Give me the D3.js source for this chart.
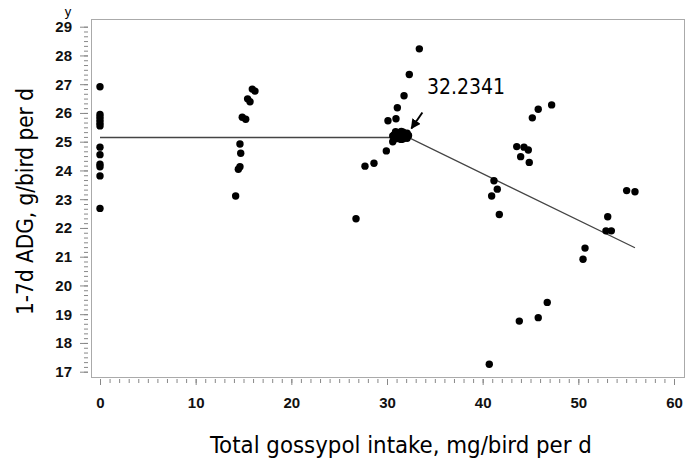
<!DOCTYPE html>
<html>
<head>
<meta charset="utf-8">
<script src="https://cdn.jsdelivr.net/npm/d3@7"></script>
<style>
  body { margin: 0; background: #fff; }
  .tick text { font-family: "Liberation Sans Narrow", "Liberation Sans", Arial, sans-serif; font-weight: bold; font-size: 15px; fill: #111; }
</style>
</head>
<body>
<script>
// gossypol intake (x) vs 1-7d ADG (y)
var intake = [
  0, 0, 0, 0, 0, 0, 0, 0, 0, 0, 0, 0,
  14.18, 14.63, 14.71, 14.63, 14.46, 14.87, 15.23, 15.43, 15.68, 15.92, 16.20,
  33.38, 32.33, 31.78, 31.08, 30.94, 30.10, 30.60, 29.93, 28.64, 27.70, 26.76,
  30.6, 30.9, 30.9, 31.3, 31.3, 31.7, 31.7, 32.1, 32.1, 32.25, 31.5,
  31.0, 31.9, 30.75, 32.2, 31.5, 31.5, 31.2, 31.8,
  43.56, 44.32, 44.77, 43.97, 44.87, 45.19, 45.81, 47.21,
  41.18, 41.53, 40.94, 41.74,
  55.05, 55.92, 53.07, 52.89, 53.45, 50.70, 50.49,
  46.75, 45.81, 43.83, 40.69
];
var adg = [
  26.91, 25.95, 25.85, 25.75, 25.64, 25.55, 24.81, 24.55, 24.22, 24.13, 23.81, 22.68,
  23.11, 24.92, 24.60, 24.13, 24.04, 25.85, 25.78, 26.49, 26.39, 26.83, 26.76,
  28.23, 27.34, 26.60, 26.18, 25.80, 25.73, 25.00, 24.68, 24.25, 24.15, 22.32,
  25.2, 25.35, 25.1, 25.32, 25.1, 25.33, 25.1, 25.3, 25.12, 25.22, 25.22,
  25.22, 25.22, 25.24, 25.2, 25.36, 25.08, 25.2, 25.25,
  24.83, 24.81, 24.71, 24.48, 24.28, 25.83, 26.13, 26.28,
  23.64, 23.35, 23.11, 22.47,
  23.30, 23.26, 22.39, 21.90, 21.90, 21.30, 20.91,
  19.41, 18.88, 18.76, 17.26
];

// broken-line fit: plateau then linear decline
var breakX = 32.2341;
var fitX = [0, 32.2341, 55.92];
var fitY = [25.146, 25.146, 21.31];

var xTicks = [0, 10, 20, 30, 40, 50, 60];
var yTicks = [17, 18, 19, 20, 21, 22, 23, 24, 25, 26, 27, 28, 29];

var W = 693, H = 461;
var frame = {left: 91, top: 19, right: 684, bottom: 377};

var svg = d3.select("body").append("svg")
  .attr("width", W).attr("height", H);

var x = d3.scaleLinear().domain([0, 60]).range([100, 674]);
var y = d3.scaleLinear().domain([17, 29]).range([371.7, 26.7]);

// frame
svg.append("rect")
  .attr("x", frame.left + 0.5).attr("y", frame.top + 0.5)
  .attr("width", frame.right - frame.left).attr("height", frame.bottom - frame.top)
  .attr("fill", "none").attr("stroke", "#aaa").attr("stroke-width", 1);

// y axis, major + minor
var yMinor = d3.range(17, 29.001, 1 / 6);
svg.append("g").attr("class", "minor")
  .attr("transform", "translate(88,0)")
  .call(d3.axisLeft(y).tickValues(yMinor).tickSize(4).tickFormat(""));
svg.append("g").attr("class", "major")
  .attr("transform", "translate(88,0)")
  .call(d3.axisLeft(y).tickValues(yTicks).tickSize(8).tickPadding(8).tickFormat(d3.format("d")));

// x axis, major + minor
var xMinor = d3.range(0, 61, 1);
svg.append("g").attr("class", "minor")
  .attr("transform", "translate(0,379)")
  .call(d3.axisBottom(x).tickValues(xMinor).tickSize(4).tickFormat(""));
svg.append("g").attr("class", "major")
  .attr("transform", "translate(0,379)")
  .call(d3.axisBottom(x).tickValues(xTicks).tickSize(6).tickPadding(12).tickFormat(d3.format("d")));

svg.selectAll(".domain").remove();
svg.selectAll(".tick line").attr("stroke", "#888");

// little "y" above the axis
svg.append("text")
  .attr("x", 68).attr("y", 16)
  .attr("text-anchor", "middle")
  .style("font-family", "Liberation Sans, Arial, sans-serif")
  .style("font-size", "13px")
  .text("y");

// fitted line
var line = d3.line().x(function(d) {return x(d[0]);}).y(function(d) {return y(d[1]);});
svg.append("path")
  .datum(d3.zip(fitX, fitY))
  .attr("d", line)
  .attr("fill", "none")
  .attr("stroke", "#444")
  .attr("stroke-width", 1.3);

// points
svg.selectAll("circle.pt")
  .data(d3.zip(intake, adg))
  .enter()
  .append("circle")
    .attr("class", "pt")
    .attr("cx", function(d) {return x(d[0]);})
    .attr("cy", function(d) {return y(d[1]);})
    .attr("r", 3.7)
    .attr("fill", "#000");

// arrow + label for the break point
svg.append("defs").append("marker")
  .attr("id", "ah")
  .attr("viewBox", "0 0 10 10")
  .attr("refX", 9).attr("refY", 5)
  .attr("markerWidth", 10).attr("markerHeight", 10)
  .attr("markerUnits", "userSpaceOnUse")
  .attr("orient", "auto")
  .append("path").attr("d", "M0,0L10,5L0,10z").attr("fill", "#000");

svg.append("line")
  .attr("x1", x(breakX) + 14).attr("y1", y(25.146) - 25)
  .attr("x2", x(breakX) + 3).attr("y2", y(25.146) - 9)
  .attr("stroke", "#000").attr("stroke-width", 2)
  .attr("marker-end", "url(#ah)");

function fitText(t, width) {
  var w = t.node().getComputedTextLength();
  var fs = parseFloat(t.style("font-size"));
  t.style("font-size", (fs * width / w) + "px");
}

var lab = svg.append("text")
  .attr("x", 427).attr("y", 94)
  .style("font-family", "DejaVu Sans Condensed, DejaVu Sans, sans-serif")
  .style("font-size", "22px")
  .text(String(breakX));
fitText(lab, 78);

// axis titles
var xt = svg.append("text")
  .attr("x", 401).attr("y", 453)
  .attr("text-anchor", "middle")
  .style("font-family", "DejaVu Sans Condensed, DejaVu Sans, sans-serif")
  .style("font-size", "22px")
  .text("Total gossypol intake, mg/bird per d");
fitText(xt, 382);

var yt = svg.append("text")
  .attr("transform", "translate(33,201.5) rotate(-90)")
  .attr("text-anchor", "middle")
  .style("font-family", "DejaVu Sans Condensed, DejaVu Sans, sans-serif")
  .style("font-size", "22px")
  .text("1-7d ADG, g/bird per d");
fitText(yt, 227);
</script>
</body>
</html>
